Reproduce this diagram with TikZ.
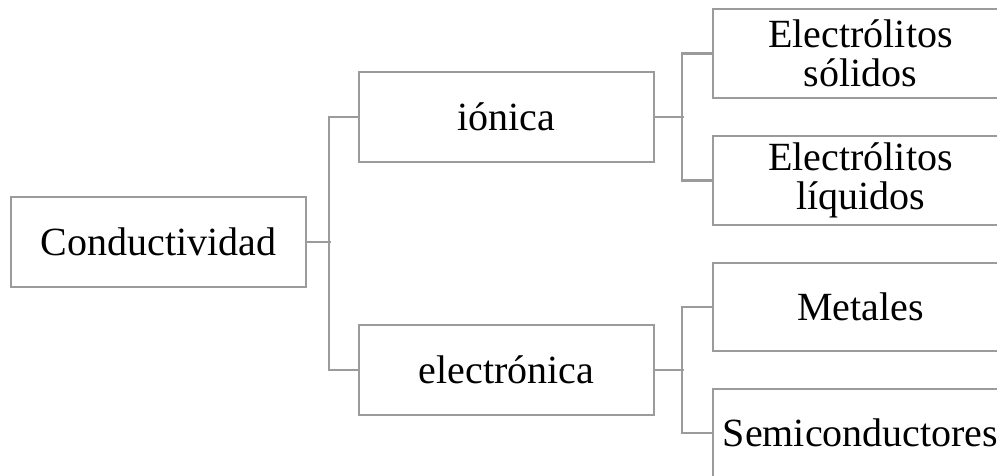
\documentclass[tikz,border=0pt]{standalone}
\usepackage{fontspec}
\setmainfont{Liberation Serif}
\definecolor{linegray}{RGB}{155,155,155}
\begin{document}
\begin{tikzpicture}[x=1pt,y=-1pt,
  box/.style={draw=linegray,line width=2.2pt,minimum width=295pt,minimum height=90pt,inner sep=0pt,align=center,font=\fontsize{40}{39}\selectfont},
  conn/.style={draw=linegray,line width=2.2pt}]
\useasboundingbox (0,0) rectangle (997,475);
\node[box] (cond) at (158.5,242) {Conductividad};
\node[box] (ion) at (506.5,117) {iónica};
\node[box] (ele) at (506.5,370) {electrónica};
\node[box,minimum height=89pt] (sol) at (860.5,53.5) {Electrólitos\\sólidos};
\node[box,minimum height=89pt] (liq) at (860.5,180.5) {Electrólitos\\líquidos};
\node[box,minimum height=88pt] (met) at (860.5,307) {Metales};
\node[box,minimum height=88pt] (semi) at (860.5,433) {Semiconductores};
\draw[conn] (cond.east) -- ++(24,0);
\draw[conn] (ion.west) -- ++(-29,0) |- (ele.west);
\draw[conn] (ion.east) -- ++(29,0);
\draw[conn] (sol.west) -- ++(-30,0) |- (liq.west);
\draw[conn] (ele.east) -- ++(29,0);
\draw[conn] (met.west) -- ++(-30,0) |- (semi.west);
\end{tikzpicture}
\end{document}
